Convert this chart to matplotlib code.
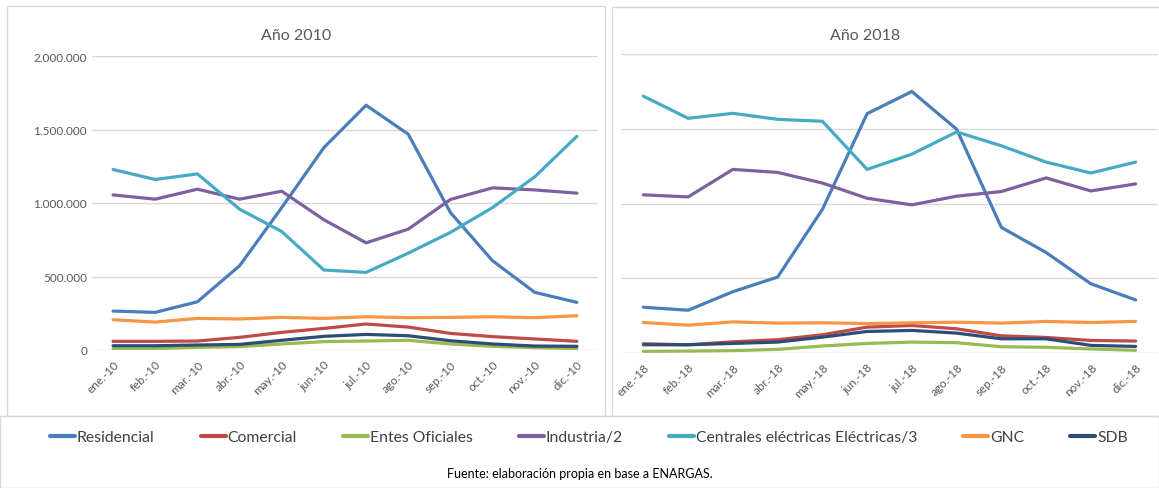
import matplotlib.pyplot as plt
from matplotlib.patches import Rectangle
from matplotlib.ticker import FuncFormatter

plt.rcParams['font.family'] = ['Lato', 'DejaVu Sans']

meses_10 = ['ene.-10', 'feb.-10', 'mar.-10', 'abr.-10', 'may.-10', 'jun.-10',
            'jul.-10', 'ago.-10', 'sep.-10', 'oct.-10', 'nov.-10', 'dic.-10']
meses_18 = ['ene.-18', 'feb.-18', 'mar.-18', 'abr.-18', 'may.-18', 'jun.-18',
            'jul.-18', 'ago.-18', 'sep.-18', 'oct.-18', 'nov.-18', 'dic.-18']

# valores 2010
res_10 = [265000, 256000, 328000, 573000, 969000, 1377000, 1665000, 1468000, 935000, 607000, 392000, 324000]
com_10 = [59000, 59000, 61000, 86000, 120000, 147000, 177000, 156000, 113000, 91000, 75000, 59000]
ent_10 = [9000, 9000, 18000, 23000, 41000, 57000, 61000, 66000, 41000, 25000, 16000, 9000]
ind_10 = [1055000, 1026000, 1094000, 1026000, 1080000, 886000, 729000, 822000, 1024000, 1103000, 1089000, 1067000]
cen_10 = [1228000, 1160000, 1198000, 958000, 806000, 544000, 528000, 659000, 800000, 969000, 1178000, 1454000]
gnc_10 = [206000, 190000, 215000, 211000, 222000, 215000, 226000, 220000, 222000, 226000, 220000, 233000]
sdb_10 = [29000, 29000, 34000, 38000, 66000, 93000, 106000, 97000, 63000, 41000, 27000, 25000]

# valores 2018
res_18 = [306000, 286000, 410000, 508000, 960000, 1601000, 1749000, 1497000, 840000, 672000, 463000, 355000]
com_18 = [62000, 55000, 75000, 89000, 122000, 173000, 184000, 162000, 115000, 104000, 84000, 80000]
ent_18 = [11000, 13000, 16000, 24000, 47000, 64000, 73000, 69000, 42000, 38000, 27000, 18000]
ind_18 = [1058000, 1044000, 1228000, 1208000, 1137000, 1035000, 991000, 1049000, 1080000, 1171000, 1084000, 1131000]
cen_18 = [1718000, 1570000, 1603000, 1563000, 1550000, 1228000, 1330000, 1479000, 1386000, 1277000, 1204000, 1277000]
gnc_18 = [204000, 186000, 208000, 200000, 202000, 197000, 202000, 206000, 200000, 211000, 204000, 211000]
sdb_18 = [55000, 55000, 64000, 73000, 106000, 144000, 151000, 133000, 95000, 95000, 51000, 44000]

nombres = ['Residencial', 'Comercial', 'Entes Oficiales', 'Industria/2',
           'Centrales eléctricas Eléctricas/3', 'GNC', 'SDB']
colores = ['#4A7EBB', '#BE4B48', '#98B954', '#7D60A0', '#46AAC5', '#F79646', '#2C4D75']

W, H = 1159, 489
fig = plt.figure(figsize=(W / 100, H / 100), dpi=100)

def box(x0, y0, x1, y1):
    return [x0 / W, 1 - y1 / H, (x1 - x0) / W, (y1 - y0) / H]

# marcos de los paneles
borde = '#D9D9D9'
fig.patches.append(Rectangle((7 / W, 1 - 417 / H), (605 - 7) / W, (417 - 7) / H,
                             transform=fig.transFigure, fill=False, ec=borde, lw=1))
fig.patches.append(Rectangle((612 / W, 1 - 417 / H), (1160 - 612) / W, (417 - 8) / H,
                             transform=fig.transFigure, fill=False, ec=borde, lw=1))
fig.patches.append(Rectangle((0, 0), 1, (489 - 417) / H,
                             transform=fig.transFigure, fill=False, ec=borde, lw=1))

ax1 = fig.add_axes(box(92, 57, 598, 351))
ax2 = fig.add_axes(box(621, 55, 1158, 354))

fmt = FuncFormatter(lambda v, p: '{:,.0f}'.format(v).replace(',', '.'))

datos = [
    (ax1, meses_10, [res_10, com_10, ent_10, ind_10, cen_10, gnc_10, sdb_10], 'Año 2010', 296),
    (ax2, meses_18, [res_18, com_18, ent_18, ind_18, cen_18, gnc_18, sdb_18], 'Año 2018', 865),
]

for ax, meses, series, titulo, tx in datos:
    x = range(len(meses))
    for s, c, n in zip(series, colores, nombres):
        ax.plot(x, s, color=c, lw=2.3, label=n, solid_capstyle='round')
    ax.set_xlim(-0.5, 11.5)
    ax.set_ylim(0, 2000000)
    ax.set_yticks([0, 500000, 1000000, 1500000, 2000000])
    ax.yaxis.set_major_formatter(fmt)
    ax.grid(axis='y', color='#D9D9D9', lw=1)
    ax.set_axisbelow(True)
    for sp in ax.spines.values():
        sp.set_visible(False)
    ax.set_xticks(list(x))
    ax.set_xticklabels(meses, rotation=45, ha='right', rotation_mode='anchor',
                       fontsize=8.5, color='#595959')
    ax.tick_params(axis='both', length=0, labelsize=8.5, labelcolor='#595959')
    ax.tick_params(axis='x', pad=6)
    fig.text(tx / W, 1 - 36 / H, titulo, ha='center', va='center',
             fontsize=11.5, color='#595959')

ax2.set_yticklabels([])

handles, labels = ax1.get_legend_handles_labels()
leg = fig.legend(handles, labels, loc='center', bbox_to_anchor=(0.508, 1 - 438 / H), ncol=7,
                 frameon=False, fontsize=11.3, handlelength=1.6, handletextpad=0.1,
                 columnspacing=2.95, labelcolor='#404040')
for h in leg.legend_handles:
    h.set_linewidth(3)

fig.text(580 / W, 1 - 474 / H, 'Fuente: elaboración propia en base a ENARGAS.',
         ha='center', va='center', fontsize=9, color='black')

fig.savefig('out.png', dpi=100)
